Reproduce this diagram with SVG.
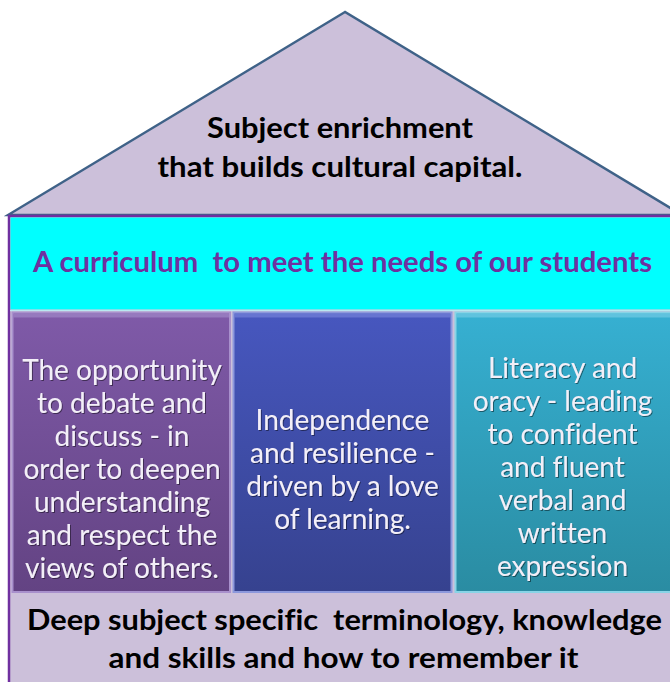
<svg xmlns="http://www.w3.org/2000/svg" width="670" height="682" viewBox="0 0 670 682">
<style>
text{font-variant-ligatures:none;font-feature-settings:"liga" 0}
.bold{font-family:Lato,"Open Sans","Liberation Sans",sans-serif;font-weight:bold;font-size:29px;text-anchor:middle;white-space:pre}
.pil{font-family:Lato,"Open Sans","Liberation Sans",sans-serif;font-size:28px;fill:#f3eff8;text-anchor:middle}
.pillar{stroke-width:2}
</style>
<defs>
<linearGradient id="g1" x1="0" y1="0" x2="0" y2="1"><stop offset="0" stop-color="#7f5aa8"/><stop offset="1" stop-color="#634383"/></linearGradient>
<linearGradient id="g2" x1="0" y1="0" x2="0" y2="1"><stop offset="0" stop-color="#4757bf"/><stop offset="1" stop-color="#36428f"/></linearGradient>
<linearGradient id="g3" x1="0" y1="0" x2="0" y2="1"><stop offset="0" stop-color="#36b0d2"/><stop offset="1" stop-color="#2a8ca2"/></linearGradient>
<filter id="sh" x="-5%" y="-20%" width="110%" height="140%"><feDropShadow dx="1" dy="1" stdDeviation="0.6" flood-color="#000" flood-opacity="0.45"/></filter>
</defs>
<rect width="670" height="682" fill="#ffffff"/>
<g id="roof">
<polygon points="345,12 8,215 682,215" fill="#ccc0da" stroke="#3f6288" stroke-width="2.4"/>
<text class="bold" x="340" y="138" textLength="266" lengthAdjust="spacingAndGlyphs" fill="#000">Subject enrichment</text>
<text class="bold" x="340" y="177" textLength="365" lengthAdjust="spacingAndGlyphs" fill="#000">that builds cultural capital.</text>
</g>
<g id="base">
<rect x="9" y="216" width="670" height="470" fill="#ccc0da" stroke="#7030a0" stroke-width="2.5"/>
<text class="bold" x="344.5" y="630" textLength="635" lengthAdjust="spacingAndGlyphs" fill="#000" xml:space="preserve">Deep subject specific  terminology, knowledge</text>
<text class="bold" x="343.5" y="668" textLength="470" lengthAdjust="spacingAndGlyphs" fill="#000">and skills and how to remember it</text>
</g>
<g id="curriculum">
<rect x="10.5" y="217.5" width="662" height="92" fill="#00ffff"/>
<line x1="10" y1="310.5" x2="670" y2="310.5" stroke="#b8e8f0" stroke-width="1.5"/>
<text class="bold" x="342.5" y="272" textLength="619" lengthAdjust="spacingAndGlyphs" fill="#7030a0" xml:space="preserve">A curriculum  to meet the needs of our students</text>
</g>
<g id="pillar1">
<rect class="pillar" x="12.5" y="312.5" width="217.5" height="279.5" fill="url(#g1)" stroke="#a890cc"/>
<rect x="13.5" y="313.5" width="215.5" height="4" fill="#a088c8" opacity="0.7"/>
<g class="pil" filter="url(#sh)">
<text x="122" y="380">The opportunity</text>
<text x="122" y="413">to debate and</text>
<text x="122" y="446">discuss - in</text>
<text x="122" y="479">order to deepen</text>
<text x="122" y="512">understanding</text>
<text x="122" y="545">and respect the</text>
<text x="122" y="578">views of others.</text>
</g>
</g>
<g id="pillar2">
<rect class="pillar" x="233.5" y="312.5" width="218" height="279.5" fill="url(#g2)" stroke="#8c98dc"/>
<rect x="234.5" y="313.5" width="216" height="4" fill="#7482d8" opacity="0.7"/>
<g class="pil" filter="url(#sh)">
<text x="342.5" y="430">Independence</text>
<text x="342.5" y="463">and resilience -</text>
<text x="342.5" y="496">driven by a love</text>
<text x="342.5" y="529">of learning.</text>
</g>
</g>
<g id="pillar3">
<rect class="pillar" x="455.5" y="312.5" width="218" height="279.5" fill="url(#g3)" stroke="#88d4e6"/>
<rect x="456.5" y="313.5" width="216" height="4" fill="#70cce4" opacity="0.7"/>
<g class="pil" filter="url(#sh)">
<text x="562.5" y="378">Literacy and</text>
<text x="562.5" y="411">oracy - leading</text>
<text x="562.5" y="444">to confident</text>
<text x="562.5" y="477">and fluent</text>
<text x="562.5" y="510">verbal and</text>
<text x="562.5" y="543">written</text>
<text x="562.5" y="576">expression</text>
</g>
</g>
<g id="connectors"></g>
</svg>
